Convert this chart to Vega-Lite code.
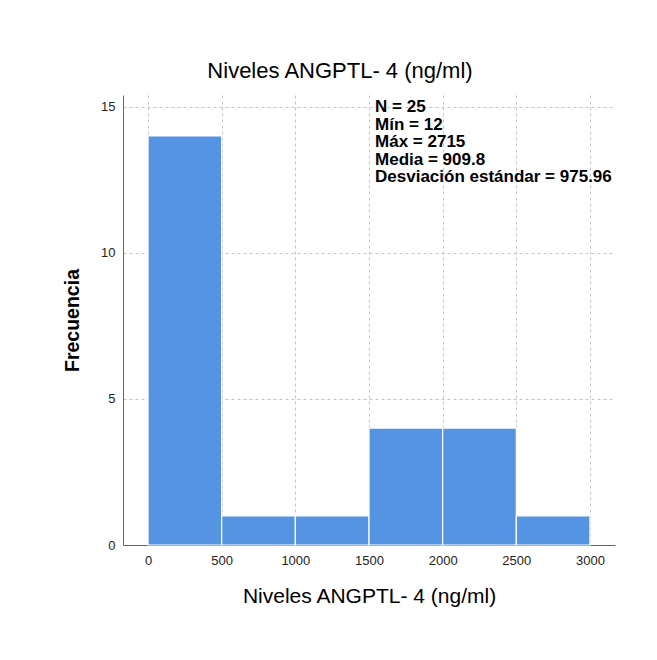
{
  "$schema": "https://vega.github.io/schema/vega-lite/v6.json",
  "width": 492,
  "height": 450,
  "autosize": "none",
  "padding": {"left": 123, "top": 95, "right": 42, "bottom": 115},
  "background": "white",
  "title": {
    "text": "Niveles ANGPTL- 4 (ng/ml)",
    "font": "Liberation Sans",
    "fontSize": 22,
    "fontWeight": "normal",
    "color": "#000000",
    "anchor": "middle",
    "dx": -29,
    "offset": 12
  },
  "config": {
    "view": {"stroke": null},
    "axis": {
      "labelFont": "Liberation Sans",
      "labelFontSize": 13,
      "labelColor": "#222222",
      "titleFont": "Liberation Sans",
      "titleFontSize": 21,
      "titleFontWeight": "normal",
      "titleColor": "#000000",
      "gridColor": "#c4c4c4",
      "gridDash": [3, 3],
      "gridWidth": 1,
      "domainColor": "#666666",
      "ticks": false
    }
  },
  "datasets": {
    "bins": [
      {"bin_start": 0, "bin_end": 500, "count": 14},
      {"bin_start": 500, "bin_end": 1000, "count": 1},
      {"bin_start": 1000, "bin_end": 1500, "count": 1},
      {"bin_start": 1500, "bin_end": 2000, "count": 4},
      {"bin_start": 2000, "bin_end": 2500, "count": 4},
      {"bin_start": 2500, "bin_end": 3000, "count": 1}
    ],
    "stats": [
      {"lines": ["N = 25", "Mín = 12", "Máx = 2715", "Media = 909.8", "Desviación estándar = 975.96"]}
    ]
  },
  "layer": [
    {
      "data": {"name": "bins"},
      "mark": {"type": "bar", "color": "#5594e2", "stroke": "white", "strokeWidth": 1.2},
      "encoding": {
        "x": {
          "field": "bin_start",
          "type": "quantitative",
          "scale": {"domain": [-170, 3170], "nice": false, "zero": false},
          "axis": {
            "values": [0, 500, 1000, 1500, 2000, 2500, 3000],
            "format": "d",
            "title": "Niveles ANGPTL- 4 (ng/ml)",
            "labelPadding": 9,
            "titlePadding": 18,
            "labelFlush": false
          }
        },
        "x2": {"field": "bin_end"},
        "y": {
          "field": "count",
          "type": "quantitative",
          "scale": {"domain": [0, 15.4], "nice": false},
          "axis": {
            "values": [0, 5, 10, 15],
            "format": "d",
            "title": "Frecuencia",
            "titleFontWeight": "bold",
            "titleFontSize": 19.5,
            "labelPadding": 8,
            "titlePadding": 18,
            "labelFlush": false
          }
        },
        "y2": {"datum": 0}
      }
    },
    {
      "data": {"name": "stats"},
      "mark": {
        "type": "text",
        "align": "left",
        "baseline": "top",
        "font": "Liberation Sans",
        "fontSize": 17,
        "fontWeight": "bold",
        "lineHeight": 17.5,
        "color": "#000000"
      },
      "encoding": {
        "text": {"field": "lines"},
        "x": {"datum": 1541},
        "y": {"datum": 15.25}
      }
    }
  ]
}
